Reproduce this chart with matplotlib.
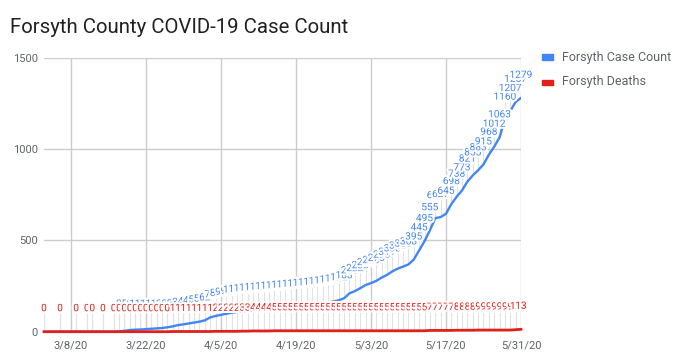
import matplotlib
matplotlib.use("Agg")
import matplotlib.pyplot as plt
import matplotlib.dates as mdates
import matplotlib.patheffects as pe
import pandas as pd

plt.rcParams["font.family"] = ["Roboto", "DejaVu Sans"]

azul = "#4285f4"
rojo = "#e0201b"
gris = "#5f6368"

# fechas: algunos dias sueltos al inicio, luego diario
fechas = (["2020-03-03", "2020-03-06", "2020-03-09", "2020-03-11", "2020-03-12", "2020-03-14"]
          + [d.strftime("%Y-%m-%d") for d in pd.date_range("2020-03-16", "2020-05-31")])

casos = [0, 0, 0, 0, 0, 0,
         # marzo 16-31
         0, 2, 5, 9, 11, 12, 14, 16, 18, 20, 24, 29, 36, 40, 45, 50,
         # abril
         55, 62, 78, 86, 92, 98, 104, 108, 112, 115, 118, 120, 123, 126, 128,
         131, 133, 136, 138, 141, 144, 147, 151, 155, 160, 165, 172, 183, 210, 222,
         # mayo
         238, 255, 266, 278, 296, 311, 330, 345, 356, 368, 395, 445, 495, 555, 621,
         627, 645, 698, 738, 773, 821, 855, 883, 915, 968, 1012, 1063, 1160, 1207, 1257, 1279]

muertes = [0, 0, 0, 0, 0, 0,
           0, 0, 0, 0, 0, 0, 0, 0, 0, 0, 0, 1, 1, 1, 1, 1,
           1, 1, 1, 2, 2, 2, 2, 2, 3, 3, 4, 4, 4, 4,
           5, 5, 5, 5, 5, 5, 5, 5, 5, 5, 5, 5, 5, 5, 5, 5,
           5, 5, 5, 5, 5, 5, 5, 5, 5, 5, 5, 5, 5, 7, 7, 7, 7, 7,
           8, 8, 8, 8, 9, 9, 9, 9, 9, 9, 9, 11, 13]

ticks = ["2020-03-08", "2020-03-22", "2020-04-05", "2020-04-19", "2020-05-03", "2020-05-17", "2020-05-31"]
tick_labels = ["3/8/20", "3/22/20", "4/5/20", "4/19/20", "5/3/20", "5/17/20", "5/31/20"]
series = ["Forsyth Case Count", "Forsyth Deaths"]

W, H = 676, 362
fig = plt.figure(figsize=(W / 100, H / 100), dpi=100)
x0, x1, ytop, ybot = 44, 521, 57.5, 331.7
ax = fig.add_axes([x0 / W, (H - ybot) / H, (x1 - x0) / W, (ybot - ytop) / H])

x = mdates.date2num(pd.to_datetime(fechas))
ax.set_xlim(x[0], x[-1])
ax.set_ylim(0, 1500)

ax.plot(x, casos, color=azul, lw=1.7, zorder=3, solid_capstyle="round")
ax.plot(x, muertes, color=rojo, lw=2.0, zorder=4, clip_on=False)

ppu = (ybot - ytop) / 1500  # pixeles por unidad
halo = [pe.withStroke(linewidth=3, foreground="white")]

# etiquetas de datos con lineas guia
for xi, v in zip(x, casos):
    off = 24 if v == 0 else max(23, 28 - v * ppu)
    ax.plot([xi, xi], [v, v + (off - 6) / ppu], color="#e2e2e2", lw=0.8, zorder=1)
    ax.annotate(str(v), (xi, v), xytext=(0, off * 0.72), textcoords="offset points",
                ha="center", va="center", fontsize=7.3, color=azul, path_effects=halo, zorder=5)
for xi, v in zip(x, muertes):
    off = 23.5
    ax.plot([xi, xi], [v, v + (off - 6) / ppu], color="#e2e2e2", lw=0.8, zorder=1)
    ax.annotate(str(v), (xi, v), xytext=(0, off * 0.72), textcoords="offset points",
                ha="center", va="center", fontsize=7.3, color=rojo, path_effects=halo, zorder=6)

ax.set_xticks(mdates.date2num(pd.to_datetime(ticks)))
ax.set_xticklabels(tick_labels)
ax.set_yticks([0, 500, 1000, 1500])
ax.grid(color="#cccccc", lw=1, zorder=0)
ax.tick_params(length=0, labelsize=8, colors=gris)
ax.tick_params(axis="x", pad=6)
ax.tick_params(axis="y", pad=4.5)
for s in ax.spines.values():
    s.set_visible(False)

fig.text(10 / W, (H - 32.7) / H, "Forsyth County COVID-19 Case Count", fontsize=14.7,
         color="#212121", va="baseline")

# leyenda
for i, (nombre, c) in enumerate(zip(series, [azul, rojo])):
    yc = 57 + 25 * i
    fig.patches.append(plt.Rectangle((542 / W, (H - yc - 2.5) / H), 11 / W, 5 / H,
                                     transform=fig.transFigure, color=c))
    fig.text(562 / W, (H - yc) / H, nombre, fontsize=9, color=gris, va="center")

fig.savefig("out.png", dpi=100)
